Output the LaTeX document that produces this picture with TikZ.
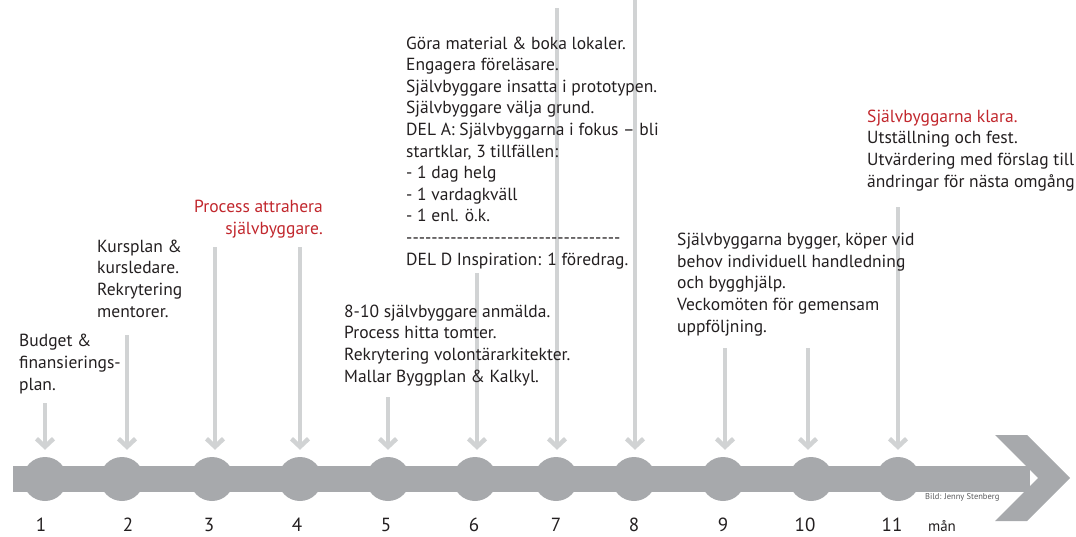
\documentclass[tikz,border=0pt]{standalone}
\usepackage{fontspec}
\setmainfont{PT Sans}
\usetikzlibrary{arrows.meta}

\definecolor{bargray}{HTML}{A7A9AC}
\definecolor{arrowgray}{HTML}{D1D3D4}
\definecolor{textdark}{HTML}{231F20}
\definecolor{notered}{HTML}{C1272D}
\definecolor{creditgray}{HTML}{58595B}

\newcommand{\dashrow}{\foreach \k in {1,...,34}{-\kern0pt}}

\begin{document}
\begin{tikzpicture}[x=1pt, y=-1pt,
    month/.style={circle, fill=bargray, minimum size=44pt, inner sep=0pt},
    monthnum/.style={anchor=base, inner sep=0pt, text=textdark, font=\fontsize{19}{22}\selectfont},
    drop/.style={draw=arrowgray, line width=4.5pt, -{Straight Barb[length=8pt,width=17pt]}, shorten >=7pt},
    note/.style={anchor=base west, align=left, inner sep=0pt, text=textdark, font=\fontsize{17.5}{21.6}\selectfont}]
  \useasboundingbox (0,0) rectangle (1076,536);

  % --- time axis: bar and arrow head ---
  \fill[bargray] (13,466) rectangle (1030,492);
  \fill[bargray] (995,435) -- (1027,435) -- (1070,478) -- (1027,521)
    -- (995,521) -- (1038,478) -- cycle;

  % --- month dots ---
  \node[month] (m1) at (45,479) {};
  \node[month] (m2) at (122,479) {};
  \node[month] (m3) at (212,479) {};
  \node[month] (m4) at (300,479) {};
  \node[month] (m5) at (388,479) {};
  \node[month] (m6) at (475,479) {};
  \node[month] (m7) at (556,479) {};
  \node[month] (m8) at (634,479) {};
  \node[month] (m9) at (723,479) {};
  \node[month] (m10) at (811,479) {};
  \node[month] (m11) at (898,479) {};

  % --- month numbers ---
  \node[monthnum] (n1) at (41,531) {1};
  \node[monthnum] (n2) at (128,531) {2};
  \node[monthnum] (n3) at (209,531) {3};
  \node[monthnum] (n4) at (297,531) {4};
  \node[monthnum] (n5) at (386,531) {5};
  \node[monthnum] (n6) at (474,531) {6};
  \node[monthnum] (n7) at (556,531) {7};
  \node[monthnum] (n8) at (634,531) {8};
  \node[monthnum] (n9) at (723,531) {9};
  \node[monthnum] (n10) at (805,531) {10};
  \node[monthnum] (n11) at (892,531) {11};
  \node[anchor=base, inner sep=0pt, text=textdark, font=\fontsize{15}{18}\selectfont] (unit) at (942,531) {mån};

  % --- drop arrows (start points) ---
  \coordinate (t1) at (45,403);
  \coordinate (t2) at (127,335);
  \coordinate (t3) at (215,247);
  \coordinate (t4) at (300,247);
  \coordinate (t5) at (388,397);
  \coordinate (t6) at (477,273);
  \coordinate (t7) at (557,8);
  \coordinate (t8) at (635,0);
  \coordinate (t9) at (725,348);
  \coordinate (t10) at (808,348);
  \coordinate (t11) at (898,207);

  \draw[drop] (t1) -- (t1 |- m1.north);
  \draw[drop] (t2) -- (t2 |- m2.north);
  \draw[drop] (t3) -- (t3 |- m3.north);
  \draw[drop] (t4) -- (t4 |- m4.north);
  \draw[drop] (t5) -- (t5 |- m5.north);
  \draw[drop] (t6) -- (t6 |- m6.north);
  \draw[drop] (t7) -- (t7 |- m7.north);
  \draw[drop] (t8) -- (t8 |- m8.north);
  \draw[drop] (t9) -- (t9 |- m9.north);
  \draw[drop] (t10) -- (t10 |- m10.north);
  \draw[drop] (t11) -- (t11 |- m11.north);

  % --- notes per month (placed at the baseline of their last line) ---
  \node[note] (budget) at (19,390) {Budget \&\\finansierings-\\plan.};
  \node[note] (kursplan) at (97,317) {Kursplan \&\\kursledare.\\Rekrytering\\mentorer.};
  \node[note, anchor=base east, align=right, text=notered] (attrahera) at (323,234)
    {Process attrahera\\självbyggare.};
  \node[note] (anmalda) at (344,382) {8-10 självbyggare anmälda.\\Process hitta tomter.\\Rekrytering volontärarkitekter.\\Mallar Byggplan \& Kalkyl.};
  \node[note] (material) at (406,265) {Göra material \& boka lokaler.\\Engagera föreläsare.\\Självbyggare insatta i prototypen.\\Självbyggare välja grund.\\DEL A: Självbyggarna i fokus – bli\\startklar, 3 tillfällen:\\- 1 dag helg\\- 1 vardagkväll\\- 1 enl. ö.k.\\\dashrow\\DEL D Inspiration: 1 föredrag.};
  \node[note] (bygger) at (677,332) {Självbyggarna bygger, köper vid\\behov individuell handledning\\och bygghjälp.\\Veckomöten för gemensam\\uppföljning.};
  \node[note] (klara) at (867,187) {\textcolor{notered}{Självbyggarna klara.}\\Utställning och fest.\\Utvärdering med förslag till\\ändringar för nästa omgång};

  % credit
  \node[anchor=base west, inner sep=0pt, text=creditgray, font=\fontsize{8.5}{10}\selectfont] (credit) at (925,499) {Bild: Jenny Stenberg};
\end{tikzpicture}
\end{document}
